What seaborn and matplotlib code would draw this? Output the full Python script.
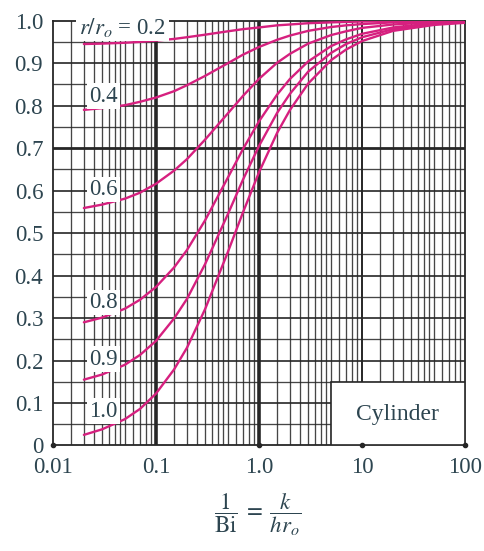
import matplotlib
matplotlib.use("Agg")
import matplotlib.pyplot as plt
from matplotlib.patches import Rectangle
from matplotlib.ticker import FixedLocator, NullFormatter
import numpy as np
import pandas as pd
import seaborn as sns

# Position correction factor theta/theta_0 for a cylinder vs. 1/Bi
inv_bi = [0.02, 0.03, 0.05, 0.07, 0.1, 0.15, 0.2, 0.3, 0.5, 0.7, 1.0, 1.5,
          2.0, 3.0, 5.0, 7.0, 10.0, 20.0, 50.0, 100.0]
r_02 = [0.945, 0.946, 0.948, 0.950, 0.953, 0.957, 0.961, 0.967, 0.975, 0.980,
        0.984, 0.989, 0.991, 0.994, 0.996, 0.997, 0.998, 0.999, 1.000, 1.000]
r_04 = [0.790, 0.794, 0.801, 0.809, 0.819, 0.834, 0.848, 0.870, 0.900, 0.920,
        0.938, 0.955, 0.965, 0.976, 0.985, 0.989, 0.992, 0.996, 0.998, 0.999]
r_06 = [0.559, 0.567, 0.581, 0.595, 0.616, 0.647, 0.674, 0.720, 0.782, 0.823,
        0.863, 0.901, 0.922, 0.946, 0.966, 0.975, 0.983, 0.991, 0.996, 0.998]
r_08 = [0.290, 0.301, 0.322, 0.343, 0.373, 0.419, 0.460, 0.530, 0.631, 0.698,
        0.763, 0.826, 0.863, 0.904, 0.940, 0.956, 0.969, 0.984, 0.994, 0.997]
r_09 = [0.155, 0.167, 0.190, 0.213, 0.246, 0.299, 0.345, 0.427, 0.545, 0.626,
        0.705, 0.783, 0.828, 0.880, 0.924, 0.945, 0.961, 0.980, 0.992, 0.996]
r_10 = [0.025, 0.038, 0.062, 0.086, 0.122, 0.179, 0.230, 0.321, 0.456, 0.549,
        0.643, 0.736, 0.790, 0.852, 0.907, 0.932, 0.952, 0.976, 0.990, 0.995]

radii = ["0.2", "0.4", "0.6", "0.8", "0.9", "1.0"]
series = [r_02, r_04, r_06, r_08, r_09, r_10]

x_ticks = [0.01, 0.1, 1.0, 10, 100]
x_tick_labels = ["0.01", "0.1", "1.0", "10", "100"]
y_ticks = [0, 0.1, 0.2, 0.3, 0.4, 0.5, 0.6, 0.7, 0.8, 0.9, 1.0]
y_tick_labels = ["0", "0.1", "0.2", "0.3", "0.4", "0.5", "0.6", "0.7", "0.8", "0.9", "1.0"]

# curve labels: text, x, y
label_text = ["0.4", "0.6", "0.8", "0.9", "1.0"]
label_x = [0.031, 0.031, 0.031, 0.031, 0.031]
label_y = [0.822, 0.603, 0.337, 0.203, 0.081]

df = pd.DataFrame({
    "inv_bi": np.concatenate([inv_bi] * len(series)),
    "ratio": np.concatenate(series),
    "r": np.repeat(radii, len(inv_bi)),
})

sns.set_style("white")
plt.rcParams["font.family"] = ["Liberation Serif", "DejaVu Serif"]
plt.rcParams["mathtext.fontset"] = "stix"

TEXT = "#2d4550"
GRID = "#262626"
CURVE = "#d6207f"
FS = 16.5

fig = plt.figure(figsize=(4.85, 5.51), dpi=100)
ax = fig.add_axes([0.109, 0.1915, 0.850, 0.771])
ax.set_xscale("log")
ax.set_xlim(0.01, 100)
ax.set_ylim(0, 1)

# log-paper grid
minor_x = [m * 10.0 ** k for k in (-2, -1, 0, 1)
           for m in (1.5, 2, 2.5, 3, 3.5, 4, 4.5, 5, 6, 7, 8, 9)]
for xv in minor_x:
    ax.axvline(xv, color=GRID, lw=0.95, alpha=0.85, zorder=1)
for yv in np.arange(0.05, 1.0, 0.1):
    ax.axhline(yv, color=GRID, lw=0.95, alpha=0.85, zorder=1)
for yv in np.arange(0.1, 1.0, 0.1):
    ax.axhline(yv, color=GRID, lw=1.2 if abs(yv - 0.7) > 1e-6 else 2.0, zorder=1)
ax.axvline(0.1, color=GRID, lw=2.6, zorder=1)
ax.axvline(1.0, color=GRID, lw=2.6, zorder=1)
ax.axvline(10, color=GRID, lw=1.4, zorder=1)

sns.lineplot(data=df, x="inv_bi", y="ratio", hue="r", units="r",
             estimator=None, sort=False, palette=[CURVE] * len(radii),
             legend=False, lw=1.7, ax=ax, zorder=3)

for sp in ax.spines.values():
    sp.set_color(GRID)
    sp.set_linewidth(1.3)
    sp.set_zorder(2)

ax.set_xticks(x_ticks)
ax.set_xticklabels(x_tick_labels)
ax.xaxis.set_minor_locator(FixedLocator([]))
ax.xaxis.set_minor_formatter(NullFormatter())
ax.set_yticks(y_ticks)
ax.set_yticklabels(y_tick_labels)
ax.tick_params(axis="both", which="major", length=0, labelsize=FS,
               labelcolor=TEXT, pad=7)
ax.tick_params(axis="x", pad=8)
ax.set_xlabel("")
ax.set_ylabel("")

# dots at the decade marks on the bottom edge
ax.plot([0.01, 1.0, 10, 100], [0, 0, 0, 0], "o", ms=3, color=GRID,
        clip_on=False, zorder=5)

box = dict(boxstyle="square,pad=0.1", fc="white", ec="none")
for t, xv, yv in zip(label_text, label_x, label_y):
    ax.text(xv, yv, t, fontsize=FS, color=TEXT, ha="center", va="center",
            bbox=box, zorder=4)
ax.text(0.0475, 0.985, r"$r/r_o$ = 0.2", fontsize=FS, color=TEXT,
        ha="center", va="center", zorder=6, clip_on=False,
        bbox=dict(boxstyle="square,pad=0.12", fc="white", ec="none"))

ax.add_patch(Rectangle((5.0, 0.0), 95.0, 0.15, fc="white", ec=GRID, lw=1.2,
                       zorder=4))
ax.text(22.0, 0.072, "Cylinder", fontsize=17, color=TEXT, ha="center",
        va="center", zorder=5)

fig.text(0.532, 0.066, r"$\dfrac{1}{\mathrm{Bi}}\;=\;\dfrac{k}{hr_o}$",
         fontsize=16.5, color=TEXT, ha="center", va="center")

fig.savefig("out.png", dpi=100, facecolor="white")
